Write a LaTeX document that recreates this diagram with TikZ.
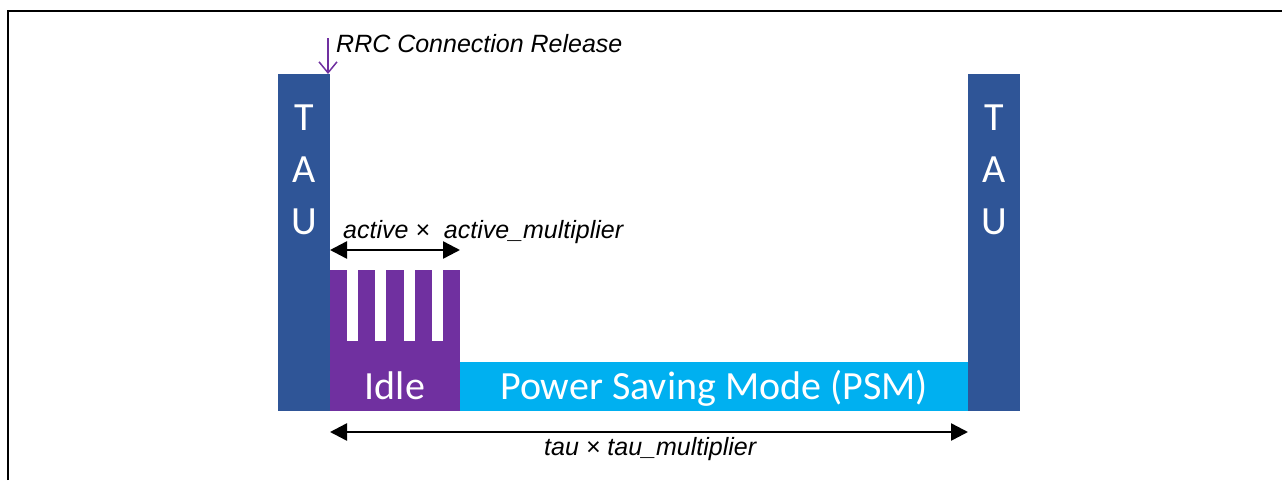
\documentclass[tikz,border=0pt]{standalone}
\usepackage{fontspec}
\setmainfont{Carlito}
\newfontfamily\arialfont{Liberation Sans}
\usetikzlibrary{arrows.meta, positioning, calc}
\definecolor{taublue}{RGB}{47, 85, 151}
\definecolor{idlepurple}{RGB}{112, 48, 160}
\definecolor{psmcyan}{RGB}{0, 176, 240}

\tikzset{
  taubox/.style={fill=taublue, minimum width=52pt, minimum height=337pt, inner sep=0pt, outer sep=0pt},
  bigtext/.style={text=white, font=\fontsize{40}{52}\selectfont, align=center, inner sep=0pt},
  note/.style={font=\arialfont\itshape\fontsize{25}{30}\selectfont, inner sep=0pt},
  dimarrow/.style={{Triangle[length=17pt, width=17pt]}-{Triangle[length=17pt, width=17pt]}, line width=2.5pt}
}

\begin{document}
\begin{tikzpicture}[x=1pt, y=-1pt]
  \useasboundingbox (0,0) rectangle (1282,480);
  % frame
  \draw[line width=2pt] (7.5,480) -- (7.5,11) -- (1282,11);

  % TAU blocks
  \node[taubox] (tau1) at (304,242.5) {};
  \node[taubox] (tau2) at (994,242.5) {};
  \node[bigtext, anchor=north] at (tau1.north |- 0,105) {T\\A\\U};
  \node[bigtext, anchor=north] at (tau2.north |- 0,105) {T\\A\\U};

  % Idle with active periods
  \node[fill=idlepurple, minimum width=130pt, minimum height=141pt, inner sep=0pt, outer sep=0pt] (idle) at (395,340.5) {};
  \foreach \x in {347,375,404,432}
    \fill[white] (\x,270) rectangle ++(10.5,71);
  \node[bigtext, anchor=base] at ([yshift=12pt]idle.south) {Idle};

  % PSM
  \node[fill=psmcyan, minimum width=508pt, minimum height=49pt, inner sep=0pt, outer sep=0pt,
        text=white, font=\fontsize{40}{52}\selectfont, text height=26pt, text depth=0pt] (psm) at (714,386.5) {Power Saving Mode (PSM)};

  % RRC release
  \coordinate (rrc) at (328,38);
  \draw[idlepurple, line width=1.5pt, -{Straight Barb[length=11pt, width=18pt]}] (rrc) -- ([xshift=-2pt]tau1.north east);
  \node[note, anchor=base west] (rrctext) at (336,52) {RRC Connection Release};

  % active timer
  \coordinate (actrow) at (0,250);
  \draw[dimarrow] (tau1.east |- actrow) -- (idle.east |- actrow);
  \node[note, anchor=base west] (acttext) at (343,238) {active × \ active\_multiplier};

  % tau timer
  \coordinate (taurow) at (0,432);
  \draw[dimarrow] (tau1.east |- taurow) -- (tau2.west |- taurow);
  \node[note, anchor=base west] (tautext) at (544,455) {tau × tau\_multiplier};
\end{tikzpicture}
\end{document}
